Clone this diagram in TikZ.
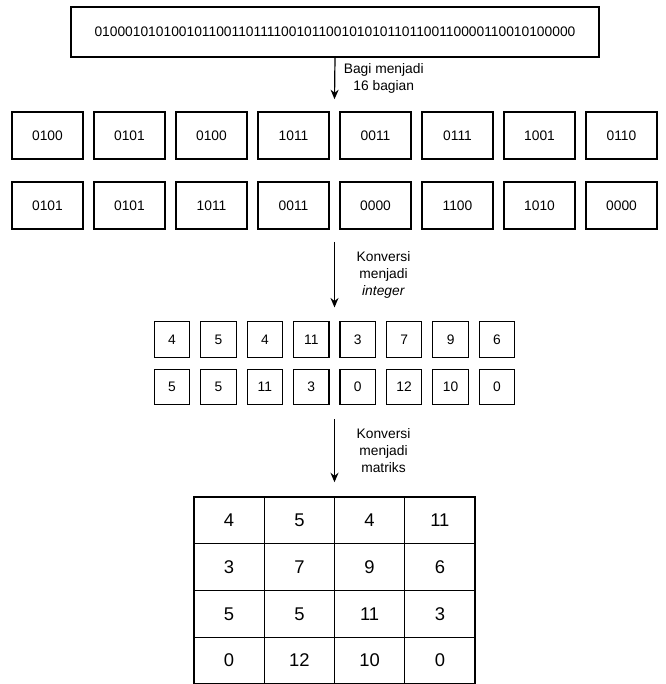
\documentclass[tikz,border=0pt]{standalone}
\usepackage{fontspec}
\setmainfont{Liberation Sans}
\usetikzlibrary{arrows.meta,fit}
\begin{document}
\begin{tikzpicture}[
  x=1pt, y=-1pt,
  box/.style={rectangle, draw, line width=1.2pt, inner sep=0pt, font=\fontsize{13.8}{16.6}\selectfont},
  nib/.style={box, minimum width=71pt, minimum height=47pt},
  num/.style={box, minimum width=35.5pt, minimum height=35.5pt},
  cell/.style={box, minimum width=70.25pt, minimum height=46.7pt, font=\fontsize{18.4}{22}\selectfont},
  grp/.style={draw=none, inner sep=#1},
  arrow/.style={-{Stealth[length=9.5pt,width=8pt]}, line width=1.2pt},
  elabel/.style={align=center, xshift=49pt, font=\fontsize{13.8}{17}\selectfont},
]
\useasboundingbox (0,0) rectangle (665,684);

% ══ Row positions ══
\def\ya{135.5}
\def\yb{205.5}
\def\yc{339.5}
\def\yd{387}

% ══ Bit string ══
\node[box, minimum width=528pt, minimum height=50pt] (stream) at (335, 32)
  {0100010101001011001101111001011001010101101100110000110010100000};

% ══ 4-bit parts ══
\node[nib] (nib1) at (47.5, \ya) {0100};
\node[nib] (nib2) at (129.5, \ya) {0101};
\node[nib] (nib3) at (211.5, \ya) {0100};
\node[nib] (nib4) at (293.5, \ya) {1011};
\node[nib] (nib5) at (375.5, \ya) {0011};
\node[nib] (nib6) at (457.5, \ya) {0111};
\node[nib] (nib7) at (539.5, \ya) {1001};
\node[nib] (nib8) at (621.5, \ya) {0110};

\node[nib] (nib9) at (47.5, \yb) {0101};
\node[nib] (nib10) at (129.5, \yb) {0101};
\node[nib] (nib11) at (211.5, \yb) {1011};
\node[nib] (nib12) at (293.5, \yb) {0011};
\node[nib] (nib13) at (375.5, \yb) {0000};
\node[nib] (nib14) at (457.5, \yb) {1100};
\node[nib] (nib15) at (539.5, \yb) {1010};
\node[nib] (nib16) at (621.5, \yb) {0000};

\node[grp=12pt, fit=(nib1)(nib16)] (grpnib) {};

% ══ Integers ══
\node[num] (int1) at (172, \yc) {4};
\node[num] (int2) at (218.4, \yc) {5};
\node[num] (int3) at (264.9, \yc) {4};
\node[num] (int4) at (311.3, \yc) {11};
\node[num] (int5) at (357.7, \yc) {3};
\node[num] (int6) at (404.1, \yc) {7};
\node[num] (int7) at (450.6, \yc) {9};
\node[num] (int8) at (497, \yc) {6};

\node[num] (int9) at (172, \yd) {5};
\node[num] (int10) at (218.4, \yd) {5};
\node[num] (int11) at (264.9, \yd) {11};
\node[num] (int12) at (311.3, \yd) {3};
\node[num] (int13) at (357.7, \yd) {0};
\node[num] (int14) at (404.1, \yd) {12};
\node[num] (int15) at (450.6, \yd) {10};
\node[num] (int16) at (497, \yd) {0};

\node[grp=13.5pt, fit=(int1)(int16)] (grpint) {};

% ══ Matrix 4x4 ══
\node[cell] (m11) at (229.1, 520.4) {4};
\node[cell] (m12) at (299.4, 520.4) {5};
\node[cell] (m13) at (369.6, 520.4) {4};
\node[cell] (m14) at (439.9, 520.4) {11};

\node[cell] (m21) at (229.1, 567.1) {3};
\node[cell] (m22) at (299.4, 567.1) {7};
\node[cell] (m23) at (369.6, 567.1) {9};
\node[cell] (m24) at (439.9, 567.1) {6};

\node[cell] (m31) at (229.1, 613.8) {5};
\node[cell] (m32) at (299.4, 613.8) {5};
\node[cell] (m33) at (369.6, 613.8) {11};
\node[cell] (m34) at (439.9, 613.8) {3};

\node[cell] (m41) at (229.1, 660.5) {0};
\node[cell] (m42) at (299.4, 660.5) {12};
\node[cell] (m43) at (369.6, 660.5) {10};
\node[cell] (m44) at (439.9, 660.5) {0};

\node[grp=14pt, fit=(m11)(m44)] (grpmat) {};

% ══ Steps ══
\draw[arrow] (stream.south) -- node[elabel] {Bagi menjadi\\16 bagian} (grpnib.north);
\draw[arrow] (grpnib.south) -- node[elabel] {Konversi\\menjadi\\\textit{integer}} (grpint.north);
\draw[arrow] (grpint.south) -- node[elabel] {Konversi\\menjadi\\matriks} (grpmat.north);

\end{tikzpicture}
\end{document}
